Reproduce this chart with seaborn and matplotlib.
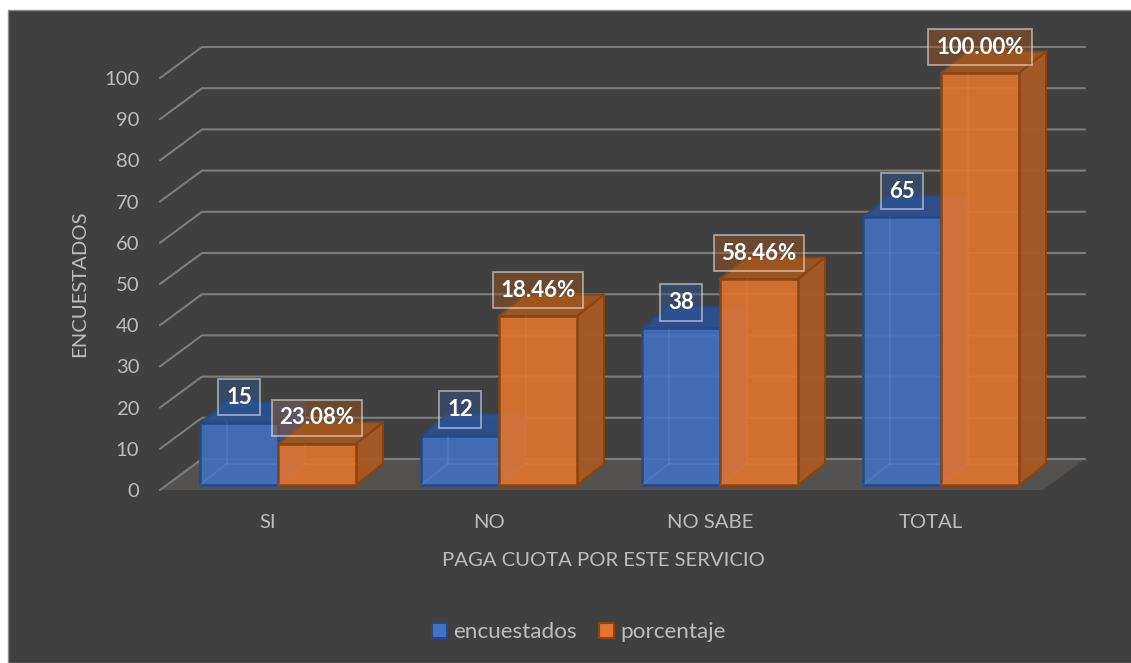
import matplotlib
matplotlib.use("Agg")
import matplotlib.pyplot as plt
import seaborn as sns
import pandas as pd
from matplotlib.patches import Polygon, Patch, Rectangle
from matplotlib.colors import to_rgba

categories = ["SI", "NO", "NO SABE", "TOTAL"]
encuestados = [15, 12, 38, 65]
porcentaje = [10, 41, 50, 100]
labels_enc = ["15", "12", "38", "65"]
labels_por = ["23.08%", "18.46%", "58.46%", "100.00%"]
y_ticks = list(range(0, 101, 10))

BG = "#404040"
TXT = "#bdbdbd"
GRID = "#7d7d7d"
FLOOR = "#545151"
FONT = "Lato"
FS = 14.6

W, H = 1131, 663
PXY = 4.12          # pixels per value unit
PXX = 221.0         # pixels per category
L, R, B, T = 160, 1085, 490, 40   # axes box in pixels

sns.set_theme(style="white")
plt.rcParams["font.family"] = [FONT, "DejaVu Sans"]
fig = plt.figure(figsize=(W / 100, H / 100), dpi=100, facecolor="white")
fig.add_artist(Rectangle((7.5 / W, 0), 1, 1 - 9.5 / H, transform=fig.transFigure,
                         fc=BG, ec="#8c8c8c", lw=1, zorder=-1))
ax = fig.add_axes([L / W, 1 - B / H, (R - L) / W, (B - T) / H])
ax.patch.set_alpha(0)

df = pd.DataFrame({
    "cat": categories * 2,
    "val": encuestados + porcentaje,
    "serie": ["encuestados"] * 4 + ["porcentaje"] * 4,
})
colors = {"encuestados": "#4272c2", "porcentaje": "#e27530"}
style = {
    "encuestados": dict(edge="#234a86", side="#2f5596", top="#2c4f8e"),
    "porcentaje": dict(edge="#8a4410", side="#a85a24", top="#a0561f"),
}
sns.barplot(data=df, x="cat", y="val", hue="serie", palette=colors, order=categories,
            width=156 / PXX, gap=0, saturation=1, legend=False, ax=ax)

x0, x1 = (L - 278) / PXX, (R - 278) / PXX
ax.set_xlim(x0, x1)
ax.set_ylim(0, (B - T) / PXY)

# floor and receding gridlines (pixels converted to value units)
gdx, gdy = 42 / PXX, 31 / PXY
ax.add_patch(Polygon([(x0, 0), (x0 + gdx, gdy), (x1, gdy), (x1 - gdx, 0)],
                     closed=True, fc=FLOOR, ec="none", zorder=0.2, clip_on=False))
for v in y_ticks:
    ax.plot([x0, x0 + gdx, x1], [v, v + gdy, v + gdy], color=GRID, lw=1.5,
            zorder=0.5, clip_on=False, solid_joinstyle="miter")

# 3D box built from each bar of the library
BASE = 5 / PXY
dx, dy = 27 / PXX, 21.5 / PXY
z = 2.0
for container, serie, texts in zip(ax.containers, ["encuestados", "porcentaje"],
                                   [labels_enc, labels_por]):
    st = style[serie]
    for bar, lab in zip(container, texts):
        xl, w, h = bar.get_x(), bar.get_width(), bar.get_height()
        xr = xl + w
        bar.set_y(BASE)
        top = BASE + h
        ax.add_patch(Polygon([(xr, BASE), (xr + dx, BASE + dy), (xr + dx, top + dy), (xr, top)],
                             closed=True, fc=to_rgba(st["side"], 0.96), ec=st["edge"], lw=1.4,
                             zorder=z + 0.1, joinstyle="round"))
        ax.add_patch(Polygon([(xl, top), (xl + dx, top + dy), (xr + dx, top + dy), (xr, top)],
                             closed=True, fc=to_rgba(st["top"], 0.96), ec=st["edge"], lw=1.4,
                             zorder=z + 0.2, joinstyle="round"))
        bar.set_facecolor(to_rgba(colors[serie], 0.9))
        bar.set_edgecolor(st["edge"])
        bar.set_linewidth(1.8)
        bar.set_zorder(z + 0.3)
        # faint inner back edges seen through the translucent front face
        inner = to_rgba("#8fb0ee", 0.16) if serie == "encuestados" else to_rgba("#ff9a50", 0.12)
        ax.plot([xl + dx, xl + dx], [BASE + dy, top], color=inner, lw=1.2, zorder=z + 0.4)
        ax.plot([xl, xl + dx], [BASE, BASE + dy], color=inner, lw=1.2, zorder=z + 0.4)
        ax.plot([xl + dx, xr], [BASE + dy, BASE + dy], color=inner, lw=1.2, zorder=z + 0.4)
        ax.annotate(lab, xy=(xl + w / 2, top), xytext=(0, 26 * 0.72), textcoords="offset points",
                    ha="center", va="center", color="white", fontsize=16, fontweight="bold",
                    zorder=20, annotation_clip=False,
                    bbox=dict(boxstyle="square,pad=0.35",
                              fc=to_rgba("#2f5596" if serie == "encuestados" else "#a0561f", 0.45),
                              ec=(1, 1, 1, 0.5), lw=1.3))
        z += 0.5

# axes furniture
ax.set_yticks(y_ticks)
ax.set_yticklabels([str(v) for v in y_ticks], color=TXT, fontsize=FS)
ax.set_xticks([i - 10 / PXX for i in range(len(categories))])
ax.set_xticklabels(categories, color=TXT, fontsize=FS)
ax.tick_params(axis="y", length=0, pad=15)
ax.tick_params(axis="x", length=0, pad=17)
for s in ax.spines.values():
    s.set_visible(False)
ax.grid(False)
ax.set_xlabel("PAGA CUOTA POR ESTE SERVICIO", color=TXT, fontsize=FS)
ax.set_ylabel("ENCUESTADOS", color=TXT, fontsize=FS)
ax.xaxis.set_label_coords((603 - L) / (R - L), (B - 561) / (B - T), transform=ax.transAxes)
ax.yaxis.set_label_coords((80 - L) / (R - L), (B - 284) / (B - T), transform=ax.transAxes)
ax.xaxis.label.set_verticalalignment("center")
ax.yaxis.label.set_verticalalignment("center")

handles = [Patch(fc=colors[k], ec=style[k]["edge"], lw=1.5, label=k) for k in ["encuestados", "porcentaje"]]
leg = ax.legend(handles=handles, loc="center", bbox_to_anchor=(579 / W, 1 - 632 / H),
                bbox_transform=fig.transFigure, ncol=2, frameon=False, fontsize=16.2,
                handlelength=0.65, handleheight=0.65, handletextpad=0.3, columnspacing=1.0,
                labelcolor=TXT)

fig.savefig("out.png", dpi=100, facecolor=fig.get_facecolor())
